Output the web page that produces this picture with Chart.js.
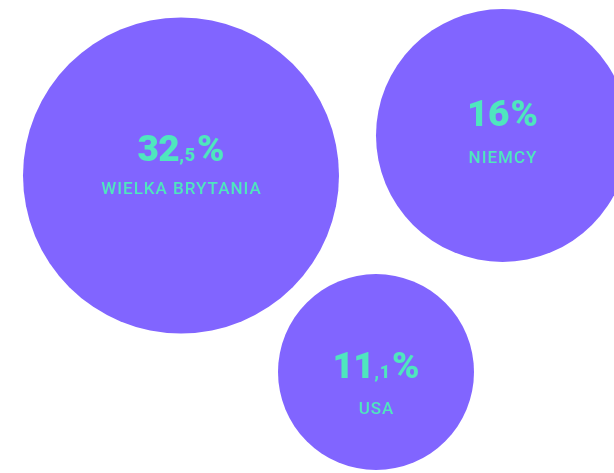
<!DOCTYPE html>
<html>
<head>
<meta charset="utf-8">
<script src="https://cdn.jsdelivr.net/npm/chart.js@4"></script>
<style>
  html, body { margin: 0; padding: 0; background: #ffffff; }
  #wrap { width: 614px; height: 473px; position: relative; }
</style>
</head>
<body>
<div id="wrap"><canvas id="chart"></canvas></div>
<script>
// Share of each market (percent)
const categories = ['WIELKA BRYTANIA', 'NIEMCY', 'USA'];
const shares = [32.5, 16, 11.1];

// Bubble layout in axis units (x, y, radius) and text baselines relative to centre
const bubbleX = [181, 502.5, 376];
const bubbleY = [175.5, 135.5, 372];
const bubbleR = [158, 126.5, 98];
const valueBaseline = [-14.5, -9.5, 6];
const nameBaseline = [18.5, 27.5, 42];

const PURPLE = '#8165FF';
const MINT = '#4FE6BE';

const bubbleData = shares.map((v, i) => ({ x: bubbleX[i], y: bubbleY[i], r: bubbleR[i], v }));

// Writes "32,5%" style values: integer part large, decimal part small, then %
function drawValue(ctx, value, cx, baseline) {
  const [intPart, decPart] = String(value).split('.');
  const parts = [{ t: intPart, f: '900 37px Roboto', sp: '-0.5px' }];
  if (decPart) parts.push({ t: ',' + decPart, f: '900 18px Roboto', sp: '0.5px' });
  parts.push({ t: '%', f: '900 37px Roboto', sp: '0px', pad: 1.5 });
  let total = 0;
  parts.forEach(p => {
    ctx.font = p.f;
    ctx.letterSpacing = p.sp;
    p.w = ctx.measureText(p.t).width + (p.pad || 0);
    total += p.w;
  });
  let x = cx - total / 2;
  ctx.textAlign = 'left';
  ctx.textBaseline = 'alphabetic';
  parts.forEach(p => {
    ctx.font = p.f;
    ctx.letterSpacing = p.sp;
    ctx.fillText(p.t, x + (p.pad || 0), baseline);
    x += p.w;
  });
  ctx.letterSpacing = '0px';
}

const labelPlugin = {
  id: 'bubbleLabels',
  afterDatasetsDraw(chart) {
    const ctx = chart.ctx;
    const meta = chart.getDatasetMeta(0);
    ctx.save();
    ctx.fillStyle = MINT;
    meta.data.forEach((el, i) => {
      const { x, y } = el.getProps(['x', 'y'], true);
      drawValue(ctx, shares[i], x, y + valueBaseline[i]);
      ctx.font = '500 17px Roboto';
      ctx.letterSpacing = '1px';
      ctx.textAlign = 'center';
      ctx.textBaseline = 'alphabetic';
      ctx.fillText(categories[i], x + 0.5, y + nameBaseline[i]);
      ctx.letterSpacing = '0px';
    });
    ctx.restore();
  }
};

new Chart(document.getElementById('chart'), {
  type: 'bubble',
  data: {
    labels: categories,
    datasets: [{
      data: bubbleData,
      backgroundColor: PURPLE,
      borderWidth: 0,
      hoverBackgroundColor: PURPLE,
      hoverBorderWidth: 0,
      hoverRadius: 0,
      clip: false
    }]
  },
  options: {
    responsive: true,
    maintainAspectRatio: false,
    animation: false,
    layout: { padding: 0, autoPadding: false },
    plugins: { legend: { display: false }, tooltip: { enabled: false } },
    events: [],
    scales: {
      x: { type: 'linear', min: 0, max: 614, display: false },
      y: { type: 'linear', min: 0, max: 473, reverse: true, display: false }
    }
  },
  plugins: [labelPlugin]
});
</script>
</body>
</html>
